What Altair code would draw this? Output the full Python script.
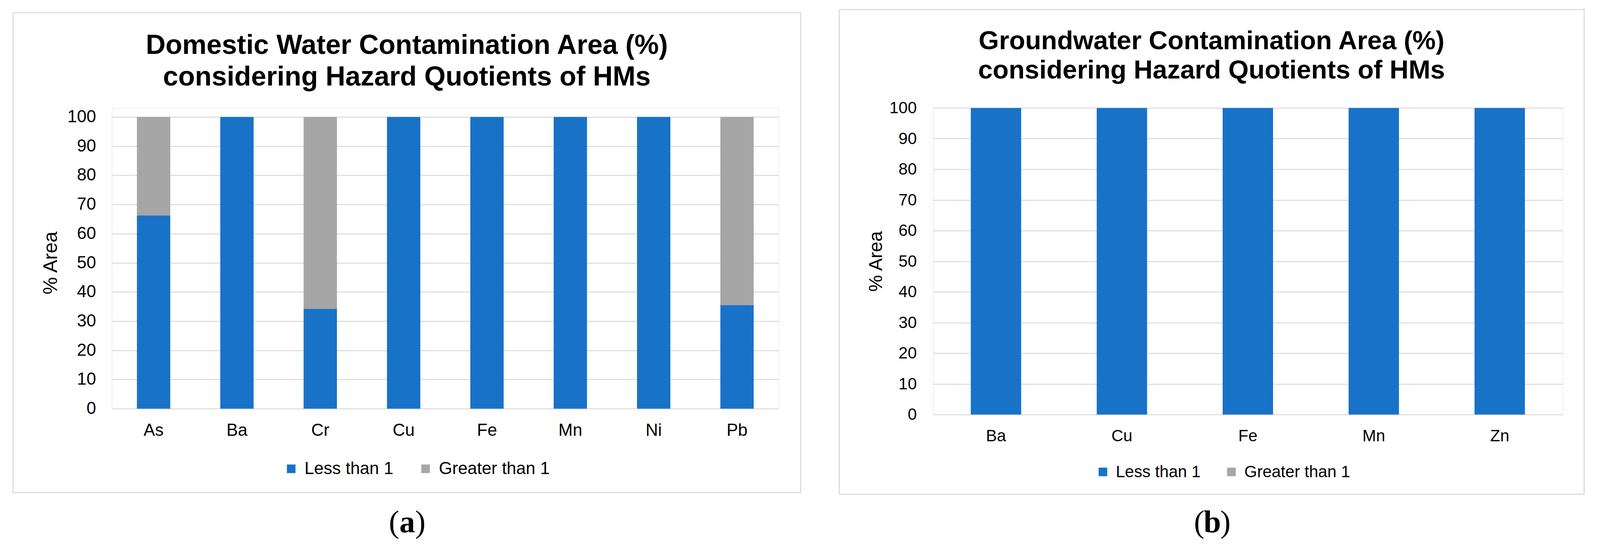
import altair as alt
import pandas as pd

FONT = "Liberation Sans"
SERIF = "Liberation Serif"
GRID = "#D9D9D9"

SERIES = ["Less than 1", "Greater than 1"]
COLORS = ["#1872C8", "#A6A6A6"]

# Panel (a): domestic water
elements_a = ["As", "Ba", "Cr", "Cu", "Fe", "Mn", "Ni", "Pb"]
less_a = [66.2, 100, 34.2, 100, 100, 100, 100, 35.5]
greater_a = [33.8, 0, 65.8, 0, 0, 0, 0, 64.5]

# Panel (b): groundwater
elements_b = ["Ba", "Cu", "Fe", "Mn", "Zn"]
less_b = [100, 100, 100, 100, 100]
greater_b = [0, 0, 0, 0, 0]

title_a = ["Domestic Water Contamination Area (%)", "considering Hazard Quotients of HMs"]
title_b = ["Groundwater Contamination Area (%)", "considering Hazard Quotients of HMs"]
y_title = "% Area"
y_ticks = [0, 10, 20, 30, 40, 50, 60, 70, 80, 90, 100]


def long_df(elements, less, greater):
    rows = []
    for e, l, g in zip(elements, less, greater):
        rows.append({"element": e, "series": SERIES[0], "value": l, "ord": 0})
        rows.append({"element": e, "series": SERIES[1], "value": g, "ord": 1})
    return pd.DataFrame(rows)


def panel(elements, less, greater, titles, letter, L):
    W, H, o = L["W"], L["H"], L["off"]
    df = long_df(elements, less, greater)
    one = pd.DataFrame({"k": [0]})

    bars = alt.Chart(df).mark_bar().encode(
        x=alt.X("element:N", sort=elements, title=None,
                scale=alt.Scale(paddingInner=0.6, paddingOuter=0.3),
                axis=alt.Axis(labelAngle=0, labelFontSize=L["lab"], labelPadding=L["xpad"],
                              labelColor="black", labelFont=FONT, domain=False, ticks=False,
                              grid=False)),
        y=alt.Y("value:Q", stack="zero", title=y_title,
                scale=alt.Scale(domain=[0, 100], nice=False, range=[H + o, o]),
                axis=alt.Axis(values=y_ticks, grid=True, gridColor=GRID, gridWidth=2.4,
                              domain=False, ticks=False, labelFontSize=L["lab"],
                              labelPadding=L["ypad"], labelColor="black", labelFont=FONT,
                              titleFont=FONT, titleFontSize=L["yt"], titleFontWeight="normal",
                              titleColor="black", titleAngle=-90, titleX=L["ytx"],
                              titleY=o + H / 2, titleAlign="center",
                              titleBaseline="alphabetic")),
        color=alt.Color("series:N", scale=alt.Scale(domain=SERIES, range=COLORS),
                        legend=alt.Legend(title=None, orient="none", legendX=L["lgx"],
                                          legendY=o + L["lgy"], direction="horizontal",
                                          symbolType="square", symbolSize=L["sym"] ** 2,
                                          symbolStrokeWidth=0, labelFontSize=L["lfs"],
                                          labelFont=FONT, labelColor="black", labelOffset=12,
                                          columnPadding=L["cpad"], padding=0, labelLimit=1000)),
        order=alt.Order("ord:Q", sort="ascending"),
    )

    box = alt.Chart(one).mark_rect(filled=False, stroke=GRID, strokeWidth=2.7).encode(
        x=alt.value(L["bx1"]), x2=alt.value(L["bx2"]),
        y=alt.value(o + L["by1"]), y2=alt.value(o + L["by2"]))

    t1 = alt.Chart(one).mark_text(text=titles[0], font=FONT, fontSize=L["tfs"],
                                  fontWeight="bold", align="center", baseline="alphabetic",
                                  color="black").encode(x=alt.value(L["tx"]),
                                                        y=alt.value(o + L["ty1"]))
    t2 = alt.Chart(one).mark_text(text=titles[1], font=FONT, fontSize=L["tfs"],
                                  fontWeight="bold", align="center", baseline="alphabetic",
                                  color="black").encode(x=alt.value(L["tx"]),
                                                        y=alt.value(o + L["ty2"]))

    lf = L["lfs2"]
    p1 = alt.Chart(one).mark_text(text="(", font=SERIF, fontSize=lf, align="center",
                                  baseline="alphabetic", color="black").encode(
        x=alt.value(L["lx"] - 0.42 * lf), y=alt.value(o + L["ly"]))
    p2 = alt.Chart(one).mark_text(text=letter, font=SERIF, fontSize=lf, fontWeight="bold",
                                  align="center", baseline="alphabetic", color="black").encode(
        x=alt.value(L["lx"]), y=alt.value(o + L["ly"]))
    p3 = alt.Chart(one).mark_text(text=")", font=SERIF, fontSize=lf, align="center",
                                  baseline="alphabetic", color="black").encode(
        x=alt.value(L["lx"] + 0.42 * lf), y=alt.value(o + L["ly"]))

    return alt.layer(box, t1, t2, p1, p2, p3, bars).properties(width=W, height=H + o)


# geometry relative to each plot's own top-left corner; "off" lowers the plot inside
# a common view origin so both panels can share one hconcat row
LA = dict(W=1707, H=747, off=23, bx1=-253, bx2=1763, by1=-267, by2=962,
          tx=755, ty1=-162, ty2=-81, tfs=70, ytx=-141, yt=50, lab=44, xpad=34, ypad=41,
          lgx=437, lgy=879, sym=22, lfs=44, cpad=60, lx=756, ly=1063, lfs2=80)
LB = dict(W=1612, H=785, off=0, bx1=-240, bx2=1667, by1=-252, by2=989,
          tx=713, ty1=-151, ty2=-76, tfs=67, ytx=-131, yt=48, lab=42, xpad=35, ypad=42,
          lgx=414, lgy=911, sym=22, lfs=42, cpad=57, lx=715, ly=1086, lfs2=80)

left = panel(elements_a, less_a, greater_a, title_a, "a", LA)
right = panel(elements_b, less_b, greater_b, title_b, "b", LB)

chart = alt.hconcat(left, right, spacing=95).resolve_scale(color="independent").properties(
    padding={"left": 23.5, "top": 14.5, "right": 5, "bottom": 5}
).configure_view(stroke="transparent").configure(background="white")

chart.save("out.html", embed_options={"renderer": "svg", "actions": False})
